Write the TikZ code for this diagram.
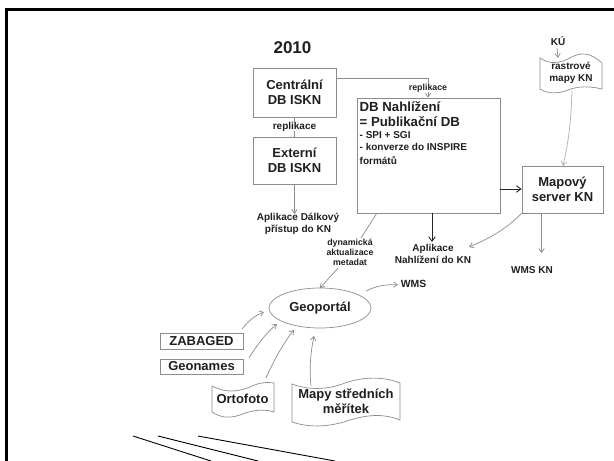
\documentclass[tikz,border=0pt]{standalone}
\usepackage{fontspec}
\setmainfont{Liberation Sans}
\usetikzlibrary{arrows.meta,shapes.geometric}
\definecolor{gl}{gray}{0.55}
\definecolor{tx}{gray}{0.12}
\tikzset{
 bx/.style={draw=gl,line width=0.8pt,fill=white,align=center,inner sep=0pt,text=tx,font=\bfseries\fontsize{13}{15}\selectfont},
 lab/.style={align=center,text=tx,inner sep=0pt,font=\bfseries\fontsize{10}{11.5}\selectfont},
 small/.style={align=center,text=tx,inner sep=0pt,font=\bfseries\fontsize{8.8}{10}\selectfont},
 big/.style={align=center,text=tx,inner sep=0pt,font=\bfseries\fontsize{13}{15}\selectfont},
 nt/.style={anchor=west,inner sep=0pt,text=tx,font=\bfseries\fontsize{10}{12}\selectfont},
 nh/.style={anchor=west,inner sep=0pt,text=tx,font=\bfseries\fontsize{13.2}{15}\selectfont},
 con/.style={draw=gl,line width=0.7pt,-{Straight Barb[length=4pt,width=5.5pt]}},
 plain/.style={draw=gl,line width=0.7pt},
 conk/.style={draw=black!85,line width=0.9pt,-{Straight Barb[length=4.5pt,width=6.5pt]}},
 wave/.style={draw=gl,line width=0.7pt,fill=white},
 blk/.style={draw=black,line width=0.9pt}
}
\begin{document}
\begin{tikzpicture}[x=1pt,y=-1pt]
\useasboundingbox (0,0) rectangle (614,461);
\fill[white] (0,0) rectangle (614,461);
\draw[black,line width=2.2pt] (6.5,461) -- (6.5,9.5) -- (614,9.5);
\node[font=\bfseries\fontsize{17}{19}\selectfont,text=tx,inner sep=0pt] (yr) at (292.5,48) {2010};

\node[bx,minimum width=83pt,minimum height=49pt] (cen) at (294.5,92.5) {Centrální\\DB ISKN};
\node[bx,minimum width=83pt,minimum height=47pt] (ext) at (294.5,160.5) {Externí\\DB ISKN};
\node[bx,minimum width=143pt,minimum height=115pt] (nah) at (428.5,155.5) {};
\node[bx,minimum width=81pt,minimum height=47pt] (map) at (562.5,189.5) {Mapový\\server KN};

\node[nh] (n1t) at (359.5,107) {DB Nahlížení};
\node[nh] (n2t) at (359.5,122) {= Publikační DB};
\node[nt] (n3t) at (359.5,135) {- SPI + SGI};
\node[nt] (n4t) at (359.5,147) {- konverze do INSPIRE};
\node[nt] (n5t) at (359.5,161) {formátů};

\node[small] (rep1) at (428,88) {replikace};
\node[lab] (rep2) at (294.5,126.5) {replikace};
\coordinate (rep1c) at (428,78);
\draw[plain] (cen.east |- rep1c) -- (rep1c) -- (rep1.north);
\draw[con] (rep1.south) -- (nah.north -| rep1);
\draw[plain] (cen.south -| rep2) -- (rep2.north);
\draw[plain] (rep2.south) -- (ext.north -| rep2);

\node[lab] (apd) at (298,224) {Aplikace Dálkový\\přístup do KN};
\coordinate (e1) at (294.5,184);
\coordinate (e2) at (294.5,214);
\draw[con] (e1) -- (e2);

\node[lab] (apn) at (433,254) {Aplikace\\Nahlížení do KN};
\coordinate (n1) at (432,213);
\coordinate (n1e) at (432,242);
\draw[conk] (n1) -- (n1e);
\node[lab] (wk) at (532,270) {WMS KN};
\coordinate (m1) at (541.5,213);
\coordinate (w1) at (541.5,253);
\draw[con] (m1) -- (w1);
\coordinate (n2) at (500,189);
\draw[conk] (n2) -- (map.west |- n2);

\node[lab] (ku) at (558,41.5) {KÚ};
\path[wave] (540,58) .. controls (550,65) and (560,63) .. (570,58) .. controls (580,52) and (590,52) .. (602,63) -- (602,89) .. controls (590,86) and (578,86) .. (568,90) .. controls (558,94) and (548,94) .. (540,89) -- cycle;
\node[lab,font=\bfseries\fontsize{10}{12}\selectfont] (ras) at (571,73) {rastrové\\mapy KN};
\coordinate (rasb) at (572,91);
\coordinate (k1) at (557,48);
\coordinate (k2) at (558,58);
\draw[con] (k1) -- (k2);
\draw[con,draw=gl!70] (rasb) .. controls (571,120) and (569,140) .. (563,166);

\coordinate (m2) at (522,213);
\coordinate (m3) at (469,247);
\draw[con] (m2) .. controls (505,230) and (490,238) .. (m3);

% Geoportal
\node[draw=gl,line width=0.7pt,ellipse,minimum width=102pt,minimum height=40pt,inner sep=0pt,text=tx,font=\bfseries\fontsize{13}{15}\selectfont] (geo) at (320,308) {Geoportál};
\node[small] (dyn) at (350,252) {dynamická\\aktualizace\\metadat};
\coordinate (d1) at (377,213);
\coordinate (d2) at (361,238);
\coordinate (d3) at (338,268);
\coordinate (d4) at (320,288);
\draw[plain] (d1) -- (d2);
\draw[con] (d3) -- (d4);
\node[lab,font=\bfseries\fontsize{10.4}{12}\selectfont] (wms) at (413.5,283.5) {WMS};
\coordinate (g1) at (366,291);
\coordinate (g2) at (398,285);
\draw[con] (g1) .. controls (376,286) and (386,284) .. (g2);

\node[bx,minimum width=83pt,minimum height=16pt] (zab) at (201.5,341) {ZABAGED};
\node[bx,minimum width=83pt,minimum height=15pt] (gna) at (201.5,366.5) {Geonames};
\path[wave] (212,386) .. controls (225,393) and (238,392) .. (250,387) .. controls (260,382) and (268,382) .. (274,383) -- (274,412) .. controls (262,408) and (250,411) .. (240,415) .. controls (228,419) and (220,417) .. (212,412) -- cycle;
\node[big] (ort) at (242.5,399) {Ortofoto};
\path[wave] (292,384) .. controls (310,391) and (330,389) .. (345,383) .. controls (365,376) and (385,377) .. (400,383) -- (400,420) .. controls (385,414) and (370,414) .. (350,420) .. controls (330,427) and (310,428) .. (292,422) -- cycle;
\node[big] (mst) at (346,401.5) {Mapy středních\\měřítek};

\coordinate (a1) at (242,329);
\coordinate (a2) at (264,312);
\coordinate (b1) at (249,358);
\coordinate (b2) at (277,324);
\coordinate (c1) at (266,378);
\coordinate (c2) at (294,330);
\coordinate (f1) at (311,386);
\coordinate (f2) at (314,336);
\draw[con] (a1) .. controls (249,320) and (256,315) .. (a2);
\draw[con] (b1) .. controls (257,345) and (266,333) .. (b2);
\draw[con] (c1) .. controls (274,360) and (284,342) .. (c2);
\draw[con] (f1) .. controls (309,368) and (311,350) .. (f2);

\coordinate (l1) at (133,436);
\coordinate (l1e) at (211,461);
\coordinate (l2) at (158,436);
\coordinate (l2e) at (258,461);
\coordinate (l3) at (198,436);
\coordinate (l3e) at (335,461);
\draw[blk] (l1) -- (l1e);
\draw[blk] (l2) -- (l2e);
\draw[blk] (l3) -- (l3e);
\end{tikzpicture}
\end{document}
